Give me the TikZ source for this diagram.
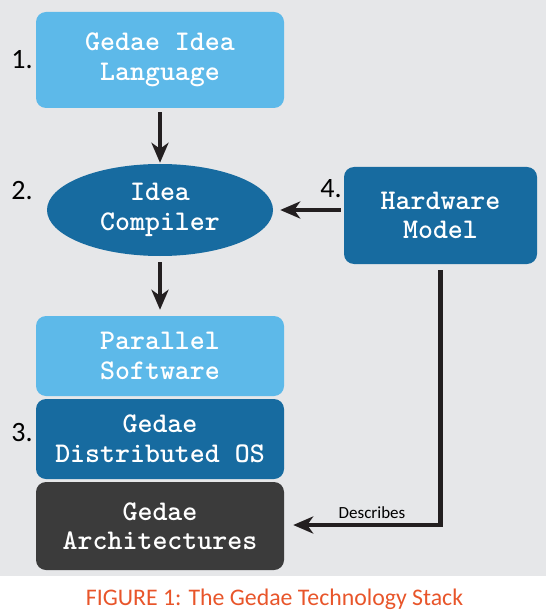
\documentclass[tikz,border=0pt]{standalone}
\usepackage{fontspec}
\setmainfont{Carlito}
\usetikzlibrary{shapes.geometric,arrows.meta}
\definecolor{bgGray}{HTML}{E6E7E9}
\definecolor{lightBlue}{HTML}{5DB9E9}
\definecolor{darkBlue}{HTML}{176BA0}
\definecolor{darkGray}{HTML}{3B3B3B}
\definecolor{arrowBlack}{HTML}{231F20}
\definecolor{captionRed}{HTML}{E8552A}
\tikzset{
  layer font/.style={font=\ttfamily\bfseries\fontsize{28.5}{29.5}\selectfont},
  layer/.style={rounded corners=10pt,text=white,align=center,layer font,inner sep=0pt},
  flow/.style={draw=arrowBlack,line width=4.5pt,-{Stealth[length=20pt,width=17pt,inset=6pt]}},
  step label/.style={font=\fontsize{28}{30}\selectfont,anchor=base}
}
\begin{document}
\begin{tikzpicture}[x=1pt,y=-1pt]
  \useasboundingbox (0,0) rectangle (548,612);
  \fill[bgGray] (0,0) rectangle (546,576);
  \node[layer,fill=lightBlue,minimum width=248pt,minimum height=96pt]
    (idea) at (160,60) {Gedae Idea\\Language};
  \node[ellipse,fill=darkBlue,text=white,align=center,inner sep=0pt,
    minimum width=226pt,minimum height=92pt,layer font]
    (compiler) at (160,210) {Idea\\Compiler};
  \node[layer,fill=lightBlue,minimum width=248pt,minimum height=80pt]
    (parallel) at (160,356) {Parallel\\Software};
  \node[layer,fill=darkBlue,minimum width=248pt,minimum height=80pt]
    (distos) at (160,439) {Gedae\\Distributed OS};
  \node[layer,fill=darkGray,minimum width=248pt,minimum height=88pt]
    (arch) at (160,526) {Gedae\\Architectures};
  \node[layer,fill=darkBlue,minimum width=193pt,minimum height=97pt]
    (hw) at (440.5,215.5) {Hardware\\Model};
  % step numbers
  \node[step label] (n1) at (22,69) {1.};
  \node[step label] (n2) at (22,200) {2.};
  \node[step label] (n3) at (22,441) {3.};
  \node[step label] (n4) at (331,197) {4.};
  % connectors
  \draw[flow] ([yshift=-4pt]idea.south) -- ([yshift=1pt]compiler.north);
  \draw[flow] ([yshift=-6pt]compiler.south) -- ([yshift=6pt]parallel.north);
  \draw[flow] ([xshift=-3pt]hw.west |- compiler.east) -- ([xshift=7pt]compiler.east);
  \coordinate (corner) at (hw.south |- 0,525);
  \draw[flow] ([yshift=-6pt]hw.south) -- (corner) -- ([xshift=9pt]arch.east |- corner);
  \node[font=\fontsize{17}{19}\selectfont,anchor=base] (desc) at (372,518) {Describes};
  \node[text=captionRed,font=\fontsize{23.8}{26}\selectfont,anchor=base]
    (caption) at (274.5,605) {FIGURE 1: The Gedae Technology Stack};
\end{tikzpicture}
\end{document}
